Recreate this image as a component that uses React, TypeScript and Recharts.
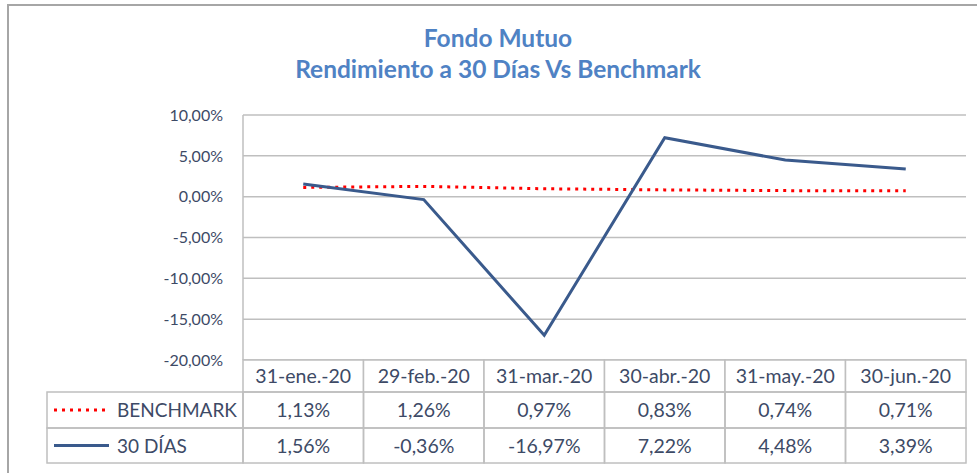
import { LineChart, Line, XAxis, YAxis, CartesianGrid } from "recharts";

// fechas de cierre de cada mes
const fechas = ["31-ene.-20", "29-feb.-20", "31-mar.-20", "30-abr.-20", "31-may.-20", "30-jun.-20"];
const benchmark = [1.13, 1.26, 0.97, 0.83, 0.74, 0.71];
const treintaDias = [1.56, -0.36, -16.97, 7.22, 4.48, 3.39];
const yTicks = [-20, -15, -10, -5, 0, 5, 10];

const series = [
  { key: "benchmark", label: "BENCHMARK", values: benchmark, color: "#ff0000", dash: "3 5", width: 3 },
  { key: "dias", label: "30 DÍAS", values: treintaDias, color: "#3a5a8c", dash: undefined, width: 3 },
];

const data = fechas.map((fecha, i) => ({
  fecha,
  benchmark: benchmark[i],
  dias: treintaDias[i],
}));

const fmt = (v: number) => v.toFixed(2).replace(".", ",") + "%";

const W = 977;
const H = 473;
const plotLeft = 243;
const plotRight = 966;
const plotTop = 115;
const plotBottom = 360;
const colW = (plotRight - plotLeft) / fechas.length;
const headerH = 32;
const rowH = [36, 35];
const legendLeft = 47;

const font = "Lato, 'Open Sans', sans-serif";
const textColor = "#3d4a66";
const borderColor = "#bfbfbf";

export default function App() {
  return (
    <div style={{ position: "absolute", left: 0, top: 0, width: W, height: H, background: "#fff", fontFamily: font, overflow: "hidden" }}>
      {/* marco del grafico */}
      <div style={{ position: "absolute", left: 7, top: 4, width: W, height: H, borderTop: "2px solid #a6a6a6", borderLeft: "2px solid #a6a6a6" }} />

      <div style={{ position: "absolute", left: 0, top: 22, width: 996, textAlign: "center", color: "#4f82c4", fontSize: 24.5, fontWeight: 700, lineHeight: "31px" }}>
        <div>Fondo Mutuo</div>
        <div>Rendimiento a 30 Días Vs Benchmark</div>
      </div>

      <div style={{ position: "absolute", left: 0, top: 0 }}>
        <LineChart
          width={W}
          height={plotBottom + 20}
          data={data}
          margin={{ top: plotTop, right: W - plotRight, bottom: 20, left: 0 }}
        >
          <CartesianGrid vertical={false} stroke={borderColor} strokeWidth={1.5} />
          <XAxis dataKey="fecha" hide padding={{ left: colW / 2, right: colW / 2 }} />
          <YAxis
            width={plotLeft}
            domain={[-20, 10]}
            ticks={yTicks}
            tickFormatter={fmt}
            axisLine={{ stroke: borderColor, strokeWidth: 1.5 }}
            tickLine={false}
            tickSize={0}
            tickMargin={20}
            tick={{ fill: textColor, fontSize: 16, fontFamily: font }}
            interval={0}
          />
          {series.map((s) => (
            <Line
              key={s.key}
              dataKey={s.key}
              stroke={s.color}
              strokeWidth={s.width}
              strokeDasharray={s.dash}
              dot={false}
              activeDot={false}
              isAnimationActive={false}
            />
          ))}
        </LineChart>
      </div>

      {/* tabla de datos */}
      <svg width={W} height={H} style={{ position: "absolute", left: 0, top: 0, pointerEvents: "none" }}>
        {fechas.map((f, i) => (
          <g key={f}>
            <rect x={plotLeft + i * colW} y={plotBottom} width={colW} height={headerH} fill="#fff" stroke={borderColor} strokeWidth={1.5} />
            <text x={plotLeft + (i + 0.5) * colW} y={plotBottom + headerH / 2 + 7} textAnchor="middle" fill={textColor} fontSize={19.5} fontFamily={font}>{f}</text>
          </g>
        ))}
        {series.map((s, r) => {
          const y0 = plotBottom + headerH + (r === 0 ? 0 : rowH[0]);
          const h = rowH[r];
          return (
            <g key={s.key}>
              <rect x={legendLeft} y={y0} width={plotLeft - legendLeft} height={h} fill="none" stroke={borderColor} strokeWidth={1.5} />
              <line x1={54} x2={109} y1={y0 + h / 2} y2={y0 + h / 2} stroke={s.color} strokeWidth={s.width} strokeDasharray={s.dash} />
              <text x={117} y={y0 + h / 2 + 7} fill={textColor} fontSize={19} fontFamily={font}>{s.label}</text>
              {s.values.map((v, i) => (
                <g key={i}>
                  <rect x={plotLeft + i * colW} y={y0} width={colW} height={h} fill="none" stroke={borderColor} strokeWidth={1.5} />
                  <text x={plotLeft + (i + 0.5) * colW} y={y0 + h / 2 + 7} textAnchor="middle" fill={textColor} fontSize={19.5} fontFamily={font}>{fmt(v)}</text>
                </g>
              ))}
            </g>
          );
        })}
      </svg>
    </div>
  );
}
